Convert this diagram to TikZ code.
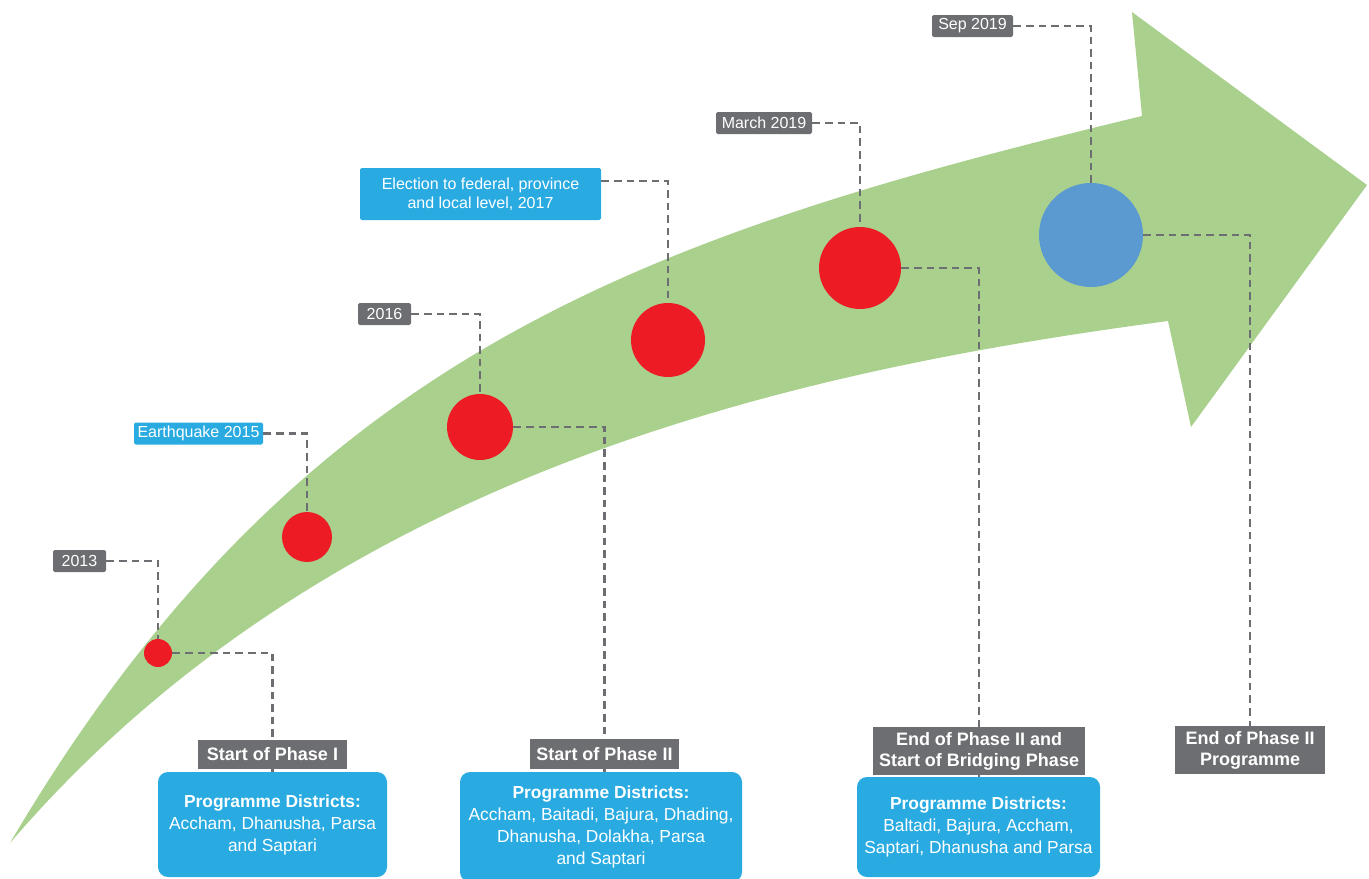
\documentclass[tikz,border=0pt]{standalone}
\usepackage{fontspec}
\setmainfont{Liberation Sans}
\usetikzlibrary{positioning}
\definecolor{tlgreen}{RGB}{170,208,142}
\definecolor{tlred}{RGB}{237,28,36}
\definecolor{tlblue}{RGB}{91,153,209}
\definecolor{tlgray}{RGB}{109,110,113}
\definecolor{tlcyan}{RGB}{41,171,226}

\begin{document}
\begin{tikzpicture}[x=0.5pt,y=-0.5pt,
  datebox/.style={fill=tlgray,text=white,rounded corners=0.8pt,inner sep=0pt,minimum height=11pt,font=\fontsize{8}{9.5}\selectfont},
  eventbox/.style={datebox,fill=tlcyan},
  phasebox/.style={fill=tlgray,text=white,inner sep=0pt,align=center,font=\bfseries\fontsize{9}{10.5}\selectfont},
  distbox/.style={fill=tlcyan,text=white,rounded corners=5pt,inner sep=0pt,align=center,font=\fontsize{8.7}{11}\selectfont},
  milestone/.style={circle,fill=tlred,inner sep=0pt},
  link/.style={tlgray,line width=1.25pt,dash pattern=on 3.8pt off 2.5pt}]
\useasboundingbox (0,0) rectangle (1369,878);
% Big arrow
\fill[tlgreen] (10,843) .. controls (300,350) and (650,235) .. (1142,116) -- (1132,12) -- (1367,185) -- (1191,427) -- (1168,321)
  .. controls (800,370) and (330,470) .. (10,843) -- cycle;
% Milestones
\node[milestone,minimum size=14pt] (m2013) at (158,653) {};
\node[milestone,minimum size=25pt] (m2015) at (307,537) {};
\node[milestone,minimum size=33pt] (m2016) at (480,427) {};
\node[milestone,minimum size=37pt] (m2017) at (668,340) {};
\node[milestone,minimum size=41pt] (m2019a) at (860,268) {};
\node[milestone,fill=tlblue,minimum size=52pt] (m2019b) at (1091,235) {};
% Dates and events
\node[datebox,minimum width=26.5pt] (d2013) at (79.5,561) {2013};
\node[eventbox,minimum width=64.5pt] (d2015) at (198.5,433.5) {Earthquake 2015};
\node[datebox,minimum width=26.5pt] (d2016) at (384.5,314) {2016};
\node[eventbox,minimum width=120.5pt,minimum height=26pt,align=center] (d2017) at (480.5,194) {Election to federal, province\\and local level, 2017};
\node[datebox,minimum width=48pt] (d2019a) at (764,123) {March 2019};
\node[datebox,minimum width=40.5pt] (d2019b) at (972.5,26) {Sep 2019};
% Phases
\node[phasebox,minimum width=74.5pt,minimum height=14.5pt] (p1) at (272.5,754.5) {Start of Phase I};
\node[phasebox,minimum width=74.5pt,minimum height=15pt] (p2) at (604.5,754) {Start of Phase II};
\node[phasebox,minimum width=106pt,minimum height=24pt] (p3) at (979,751) {End of Phase II and\\Start of Bridging Phase};
\node[phasebox,minimum width=75pt,minimum height=24pt] (p4) at (1250,750) {End of Phase II\\Programme};
% Districts
\node[distbox,minimum width=114.5pt,minimum height=52.5pt] (dist1) at (272.5,824.5) {\textbf{Programme Districts:}\\Accham, Dhanusha, Parsa\\and Saptari};
\node[distbox,minimum width=141pt,minimum height=55pt] (dist2) at (601,827) {\textbf{Programme Districts:}\\Accham, Baitadi, Bajura, Dhading,\\Dhanusha, Dolakha, Parsa\\and Saptari};
\node[distbox,minimum width=121.5pt,minimum height=50pt] (dist3) at (978.5,827) {\textbf{Programme Districts:}\\Baltadi, Bajura, Accham,\\Saptari, Dhanusha and Parsa};
% Dashed links
\draw[link] (d2013.east) -| (m2013.north);
\draw[link] (d2015.east) -| (m2015.north);
\draw[link] (d2016.east) -| (m2016.north);
\draw[link] ([yshift=6.5pt]d2017.east) -| (m2017.north);
\draw[link] (d2019a.east) -| (m2019a.north);
\draw[link] (d2019b.east) -| (m2019b.north);
\draw[link] (m2013.east) -| (p1.north);
\draw[link] (m2016.east) -| (p2.north);
\draw[link] (m2019a.east) -| (p3.north);
\draw[link] (m2019b.east) -| (p4.north);
\draw[link] (p1.south) -- (p1.south |- dist1.north);
\draw[link] (p2.south) -- (p2.south |- dist2.north);
\draw[link] (p3.south) -- (p3.south |- dist3.north);
\end{tikzpicture}
\end{document}
